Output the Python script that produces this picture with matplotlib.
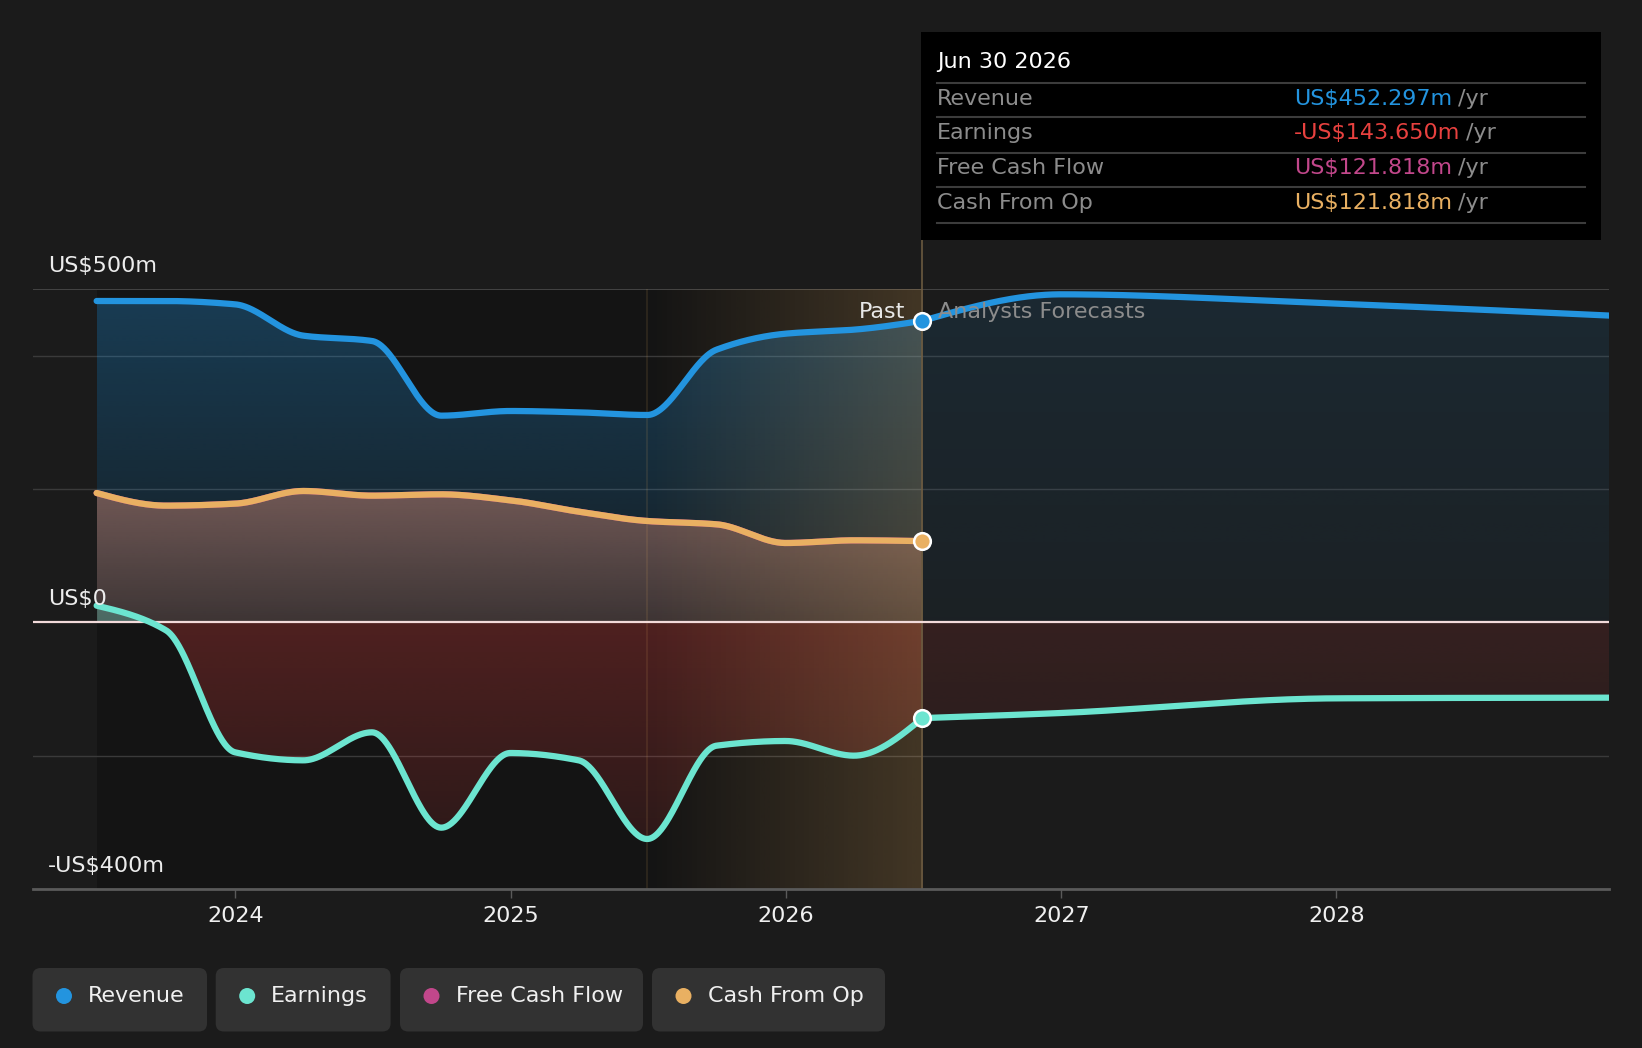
import numpy as np
import matplotlib
matplotlib.use("Agg")
import matplotlib.pyplot as plt
import matplotlib.colors as mcolors
import matplotlib.transforms as mtransforms
from matplotlib.patches import Polygon, Rectangle, FancyBboxPatch, Ellipse

# data (US$ m), past is quarterly trailing values, forecast is yearly
# dates as decimal years (quarter ends)
past_years = [2023.496, 2023.748, 2023.999, 2024.247, 2024.496, 2024.748, 2024.999,
              2025.247, 2025.496, 2025.748, 2025.999, 2026.247, 2026.496]
revenue_past = [482, 482, 477, 430, 422, 310, 317, 315, 311, 409, 433, 439, 452.297]
earnings_past = [25, -12, -195, -207, -165, -308, -196, -207, -325, -185, -178, -200, -143.650]
fcf_past = [194, 175, 178, 197, 190, 192, 183, 166, 152, 147, 119, 123, 121.818]
cfo_past = [194, 175, 178, 197, 190, 192, 183, 166, 152, 147, 119, 123, 121.818]

fc_years = [2026.496, 2026.999, 2027.999, 2028.999]
revenue_fc = [452.297, 492, 478, 460]
earnings_fc = [-143.650, -136, -114, -113]

year_ticks = [2024, 2025, 2026, 2027, 2028]
y_labels = {500: "US$500m", 0: "US$0", -400: "-US$400m"}
legend_names = ["Revenue", "Earnings", "Free Cash Flow", "Cash From Op"]

C_REV = "#2394df"
C_EARN = "#6ce5d0"
C_FCF = "#c2478b"
C_CFO = "#e9b062"
C_RED = "#e8413f"
BG = "#1b1b1b"
FS = 16

W, H = 1642, 1048


def monotone(xs, ys, n=80):
    xs = np.asarray(xs, float)
    ys = np.asarray(ys, float)
    h = np.diff(xs)
    s = np.diff(ys) / h
    m = np.zeros_like(ys)
    for i in range(1, len(ys) - 1):
        if s[i - 1] * s[i] > 0:
            w1 = 2 * h[i] + h[i - 1]
            w2 = h[i] + 2 * h[i - 1]
            m[i] = (w1 + w2) / (w1 / s[i - 1] + w2 / s[i])
    m[0] = (3 * s[0] - m[1]) / 2
    m[-1] = (3 * s[-1] - m[-2]) / 2
    xo, yo = [], []
    for i in range(len(h)):
        t = np.linspace(0, 1, n, endpoint=(i == len(h) - 1))
        h00 = 2 * t**3 - 3 * t**2 + 1
        h10 = t**3 - 2 * t**2 + t
        h01 = -2 * t**3 + 3 * t**2
        h11 = t**3 - t**2
        xo.append(xs[i] + t * h[i])
        yo.append(h00 * ys[i] + h10 * h[i] * m[i] + h01 * ys[i + 1] + h11 * h[i] * m[i + 1])
    return np.concatenate(xo), np.concatenate(yo)


def vgrad_fill(ax, x, y, color, a_top, a_bot, y_top, y_bot, z):
    verts = np.vstack([np.column_stack([x, y]),
                       np.column_stack([x[::-1], np.zeros_like(x)])])
    patch = Polygon(verts, closed=True, facecolor="none", edgecolor="none")
    ax.add_patch(patch)
    img = np.zeros((256, 1, 4))
    img[:, :, :3] = mcolors.to_rgb(color)
    img[:, 0, 3] = np.linspace(a_top, a_bot, 256)
    im = ax.imshow(img, aspect="auto", origin="upper", interpolation="bilinear",
                   extent=[x.min(), x.max(), y_bot, y_top], zorder=z)
    im.set_clip_path(patch)


fig = plt.figure(figsize=(W / 100, H / 100), dpi=100, facecolor=BG)
ax = fig.add_axes([32.5 / W, 1 - 889 / H, (1609 - 32.5) / W, (889 - 289) / H])
ax.set_facecolor(BG)

x_start, x_split, x_now = past_years[0], past_years[8], past_years[-1]

# dark past band and highlighted last year
ax.axvspan(x_start, x_now, color="#141414", zorder=0.5, lw=0)

rx, ry = monotone(past_years, revenue_past)
fx, fy = monotone(fc_years, revenue_fc)
ex, ey = monotone(past_years, earnings_past)
gx, gy = monotone(fc_years, earnings_fc)
cx, cy = monotone(past_years, cfo_past)
px, py = monotone(past_years, fcf_past)

vgrad_fill(ax, rx, ry, C_REV, 0.32, 0.08, 500, 0, 1)
vgrad_fill(ax, fx, fy, C_REV, 0.12, 0.05, 500, 0, 1)
vgrad_fill(ax, cx, cy, "#e1917a", 0.45, 0.2, 200, 0, 1.2)
vgrad_fill(ax, ex, np.minimum(ey, 0), C_RED, 0.28, 0.12, 0, -330, 1.2)
vgrad_fill(ax, gx, np.minimum(gy, 0), C_RED, 0.13, 0.09, 0, -150, 1.2)
ax.fill_between(ex, np.maximum(ey, 0), 0, color=C_EARN, alpha=0.3, lw=0, zorder=1.3)

band = np.zeros((1, 256, 4))
band[:, :, :3] = mcolors.to_rgb(C_CFO)
band[0, :, 3] = np.linspace(0.0, 0.22, 256)
ax.imshow(band, aspect="auto", interpolation="bilinear",
          extent=[x_split, x_now, -400, 500], zorder=1.5)
ax.axvline(x_split, color=C_CFO, alpha=0.13, lw=1.2, zorder=1.6)
ax.axvline(x_now, ymin=0, ymax=1 + 49 / 600, color="#6b5a40", lw=1.2,
           zorder=1.6, clip_on=False)

# grid
for v in [400, 200, -200]:
    ax.axhline(v, color="#3a3a3a", lw=1, zorder=0.8)
ax.axhline(500, color="#474747", lw=1.3, zorder=0.8)
ax.axhline(0, color="#f2dada", lw=1.6, zorder=2.5)

# lines
ax.plot(px, py, color=C_FCF, lw=4.5, zorder=3, solid_capstyle="round")
ax.plot(cx, cy, color=C_CFO, lw=4.5, zorder=3.1, solid_capstyle="round")
ax.plot(rx, ry, color=C_REV, lw=4.5, zorder=3.2, solid_capstyle="round")
ax.plot(fx, fy, color=C_REV, lw=4.5, zorder=3.2, solid_capstyle="round")
ax.plot(ex, ey, color=C_EARN, lw=4.5, zorder=3.3, solid_capstyle="round")
ax.plot(gx, gy, color=C_EARN, lw=4.5, zorder=3.3, solid_capstyle="round")

for val, col in [(revenue_past[-1], C_REV), (cfo_past[-1], C_CFO), (earnings_past[-1], C_EARN)]:
    ax.plot([x_now], [val], "o", ms=12, mfc=col, mec="white", mew=1.8, zorder=4)

ax.annotate("Past", xy=(x_now, revenue_past[-1]), xytext=(-17, 9),
            textcoords="offset pixels", ha="right", va="center",
            fontsize=FS, color="#e8e8e8", zorder=5)
ax.annotate("Analysts Forecasts", xy=(x_now, revenue_past[-1]), xytext=(16, 9),
            textcoords="offset pixels", ha="left", va="center",
            fontsize=FS, color="#8c8c8c", zorder=5)

# axes
ax.set_xlim(2023.263, 2028.99)
ax.set_ylim(-400, 500)
for side in ["top", "right", "left"]:
    ax.spines[side].set_visible(False)
ax.spines["bottom"].set_color("#5a5a5a")
ax.spines["bottom"].set_linewidth(2)
ax.set_yticks([])
ax.set_xticks(year_ticks)
ax.set_xticklabels([str(y) for y in year_ticks])
ax.tick_params(axis="x", colors="#5a5a5a", length=6.5, width=1, pad=6,
               labelsize=FS, labelcolor="#f0f0f0")

trans = mtransforms.blended_transform_factory(ax.transAxes, ax.transData)
for val, txt in y_labels.items():
    ax.annotate(txt, xy=(0, val), xycoords=trans, xytext=(15.5, 17),
                textcoords="offset pixels", ha="left", va="baseline",
                fontsize=FS, color="#ececec", zorder=5)

# tooltip
fig.patches.append(Rectangle((921 / W, 1 - 240 / H), (1601 - 921) / W, (240 - 32) / H,
                             transform=fig.transFigure, facecolor="black",
                             edgecolor="none", zorder=10))
fig.text(937 / W, 1 - 62 / H, "Jun 30 2026", fontsize=FS, color="white",
         va="center", zorder=11)
for yy in [83, 117, 153, 187, 223]:
    fig.lines.append(plt.Line2D([937 / W, 1585 / W], [1 - yy / H] * 2,
                                transform=fig.transFigure, color="#3c3c3c",
                                lw=1.5, zorder=11))
rows = [("Revenue", "US$452.297m", C_REV, 99),
        ("Earnings", "-US$143.650m", C_RED, 133),
        ("Free Cash Flow", "US$121.818m", C_FCF, 168),
        ("Cash From Op", "US$121.818m", C_CFO, 203)]
for name, val, col, yy in rows:
    fig.text(937 / W, 1 - yy / H, name, fontsize=FS, color="#8c8c8c", va="center", zorder=11)
    t = fig.text(1294 / W, 1 - yy / H, val, fontsize=FS, color=col, va="center", zorder=11)
    fig.canvas.draw()
    bb = t.get_window_extent()
    fig.text(bb.x1 / W + 6 / W, 1 - yy / H, "/yr", fontsize=FS, color="#8c8c8c",
             va="center", zorder=11)

# legend
boxes = [(32.5, 207), (215.7, 390.6), (400, 643), (652, 885)]
colors = [C_REV, C_EARN, C_FCF, C_CFO]
for (x0, x1), name, col in zip(boxes, legend_names, colors):
    fig.patches.append(FancyBboxPatch((x0 / W, 1 - 1031.5 / H), (x1 - x0) / W, 63.5 / H,
                                      boxstyle="round,pad=0,rounding_size=0.005",
                                      transform=fig.transFigure, facecolor="#323232",
                                      edgecolor="none", mutation_aspect=W / H))
    fig.patches.append(Ellipse(((x0 + 31.5) / W, 1 - 996 / H), 16 / W, 16 / H,
                               transform=fig.transFigure, facecolor=col,
                               edgecolor="none"))
    fig.text((x0 + 55.5) / W, 1 - 996 / H, name, fontsize=FS, color="#f0f0f0", va="center")

fig.savefig("out.png", dpi=100, facecolor=BG)
